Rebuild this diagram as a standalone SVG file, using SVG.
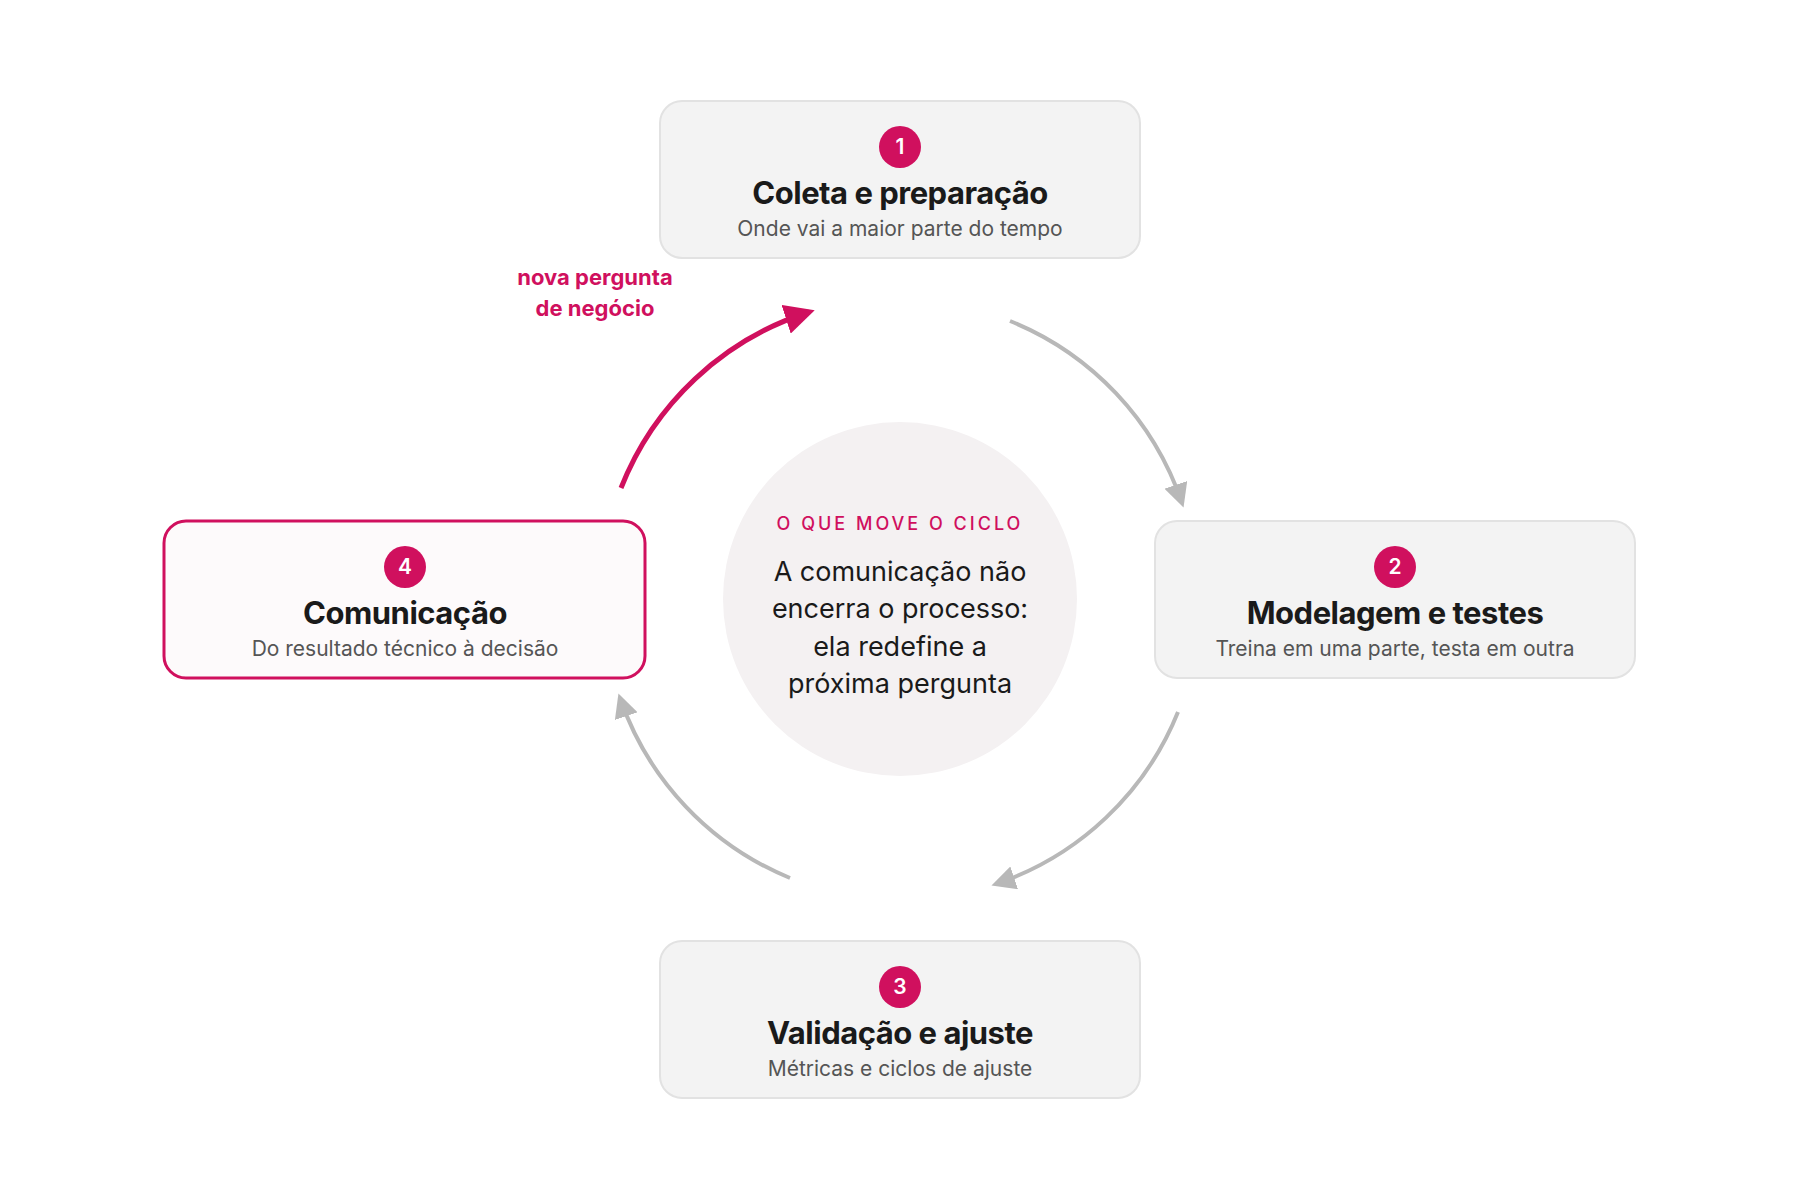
<svg xmlns="http://www.w3.org/2000/svg" width="1800" height="1200" viewBox="0 0 1800 1200">
<style>
.box{fill:#f3f3f3;stroke:#e2e2e2;stroke-width:2}
.hl{fill:#fdfafb;stroke:#d0105e;stroke-width:3}
.badge{fill:#d0105e}
.num{font-family:Inter,"Noto Sans",sans-serif;font-weight:600;font-size:21px;fill:#fff;text-anchor:middle}
.t{font-family:Inter,"Noto Sans",sans-serif;font-weight:700;font-size:31px;fill:#1a1a1a;text-anchor:middle;letter-spacing:-0.5px}
.s{font-family:Inter,"Noto Sans",sans-serif;font-size:21px;fill:#555;text-anchor:middle}
.c{font-family:Inter,"Noto Sans",sans-serif;font-size:27px;fill:#1a1a1a;text-anchor:middle}
.k{font-family:Inter,"Noto Sans",sans-serif;font-size:18px;fill:#d0105e;text-anchor:middle;letter-spacing:3px;font-weight:500}
.lab{font-family:Inter,"Noto Sans",sans-serif;font-size:22px;font-weight:700;fill:#d0105e;text-anchor:middle}
.g{fill:none;stroke:#b8b8b8;stroke-width:4}
.p{fill:none;stroke:#d0105e;stroke-width:5}
</style>
<defs>
<marker id="ag" viewBox="0 0 10 10" refX="8" refY="5" markerWidth="6" markerHeight="6" orient="auto" markerUnits="strokeWidth"><path d="M0,0L10,5L0,10z" fill="#b8b8b8"/></marker>
<marker id="ap" viewBox="0 0 10 10" refX="8" refY="5" markerWidth="6" markerHeight="6" orient="auto" markerUnits="strokeWidth"><path d="M0,0L10,5L0,10z" fill="#d0105e"/></marker>
</defs>
<rect width="1800" height="1200" fill="#fff"/>
<g id="connectors">
<path class="g" d="M1010,321 A300,300 0 0 1 1182,503" marker-end="url(#ag)"/>
<path class="g" d="M1178,712 A300,300 0 0 1 996,884" marker-end="url(#ag)"/>
<path class="g" d="M790,878 A300,300 0 0 1 620,698" marker-end="url(#ag)"/>
<path class="p" d="M621,488 A300,300 0 0 1 809,312" marker-end="url(#ap)"/>
<text class="lab" x="595" y="285">nova pergunta</text>
<text class="lab" x="595" y="316">de negócio</text>
</g>
<g id="center">
<circle cx="900" cy="599" r="177" fill="#f4f1f2"/>
<text class="k" x="900" y="530">O QUE MOVE O CICLO</text>
<text class="c" x="900" y="581">A comunicação não</text>
<text class="c" x="900" y="618">encerra o processo:</text>
<text class="c" x="900" y="656">ela redefine a</text>
<text class="c" x="900" y="693">próxima pergunta</text>
</g>
<g id="n1">
<rect class="box" x="660" y="101" width="480" height="157" rx="22"/>
<circle class="badge" cx="900" cy="147" r="21"/><text class="num" x="900" y="154">1</text>
<text class="t" x="900" y="204">Coleta e preparação</text>
<text class="s" x="900" y="236">Onde vai a maior parte do tempo</text>
</g>
<g id="n2">
<rect class="box" x="1155" y="521" width="480" height="157" rx="22"/>
<circle class="badge" cx="1395" cy="567" r="21"/><text class="num" x="1395" y="574">2</text>
<text class="t" x="1395" y="624">Modelagem e testes</text>
<text class="s" x="1395" y="656">Treina em uma parte, testa em outra</text>
</g>
<g id="n3">
<rect class="box" x="660" y="941" width="480" height="157" rx="22"/>
<circle class="badge" cx="900" cy="987" r="21"/><text class="num" x="900" y="994">3</text>
<text class="t" x="900" y="1044">Validação e ajuste</text>
<text class="s" x="900" y="1076">Métricas e ciclos de ajuste</text>
</g>
<g id="n4">
<rect class="hl" x="164" y="521" width="481" height="157" rx="22"/>
<circle class="badge" cx="405" cy="567" r="21"/><text class="num" x="405" y="574">4</text>
<text class="t" x="405" y="624">Comunicação</text>
<text class="s" x="405" y="656">Do resultado técnico à decisão</text>
</g>
</svg>
